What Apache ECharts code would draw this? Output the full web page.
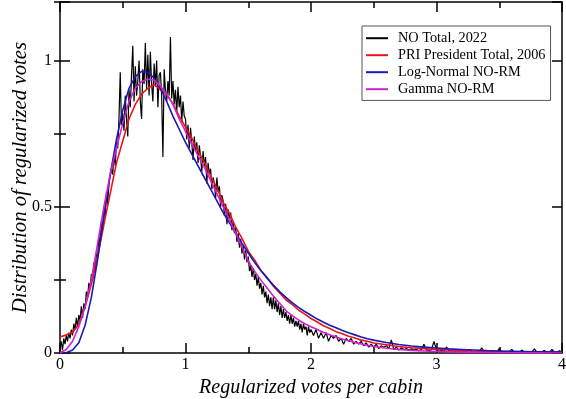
<!DOCTYPE html>
<html>
<head>
<meta charset="utf-8">
<script src="https://cdn.jsdelivr.net/npm/echarts@6/dist/echarts.min.js"></script>
<style>
  html, body { margin: 0; padding: 0; background: #fff; }
  #main { width: 566px; height: 399px; }
</style>
</head>
<body>
<div id="main"></div>
<script>
// series names, same order as the legend
const seriesNames = ['NO Total, 2022', 'PRI President Total, 2006', 'Log-Normal NO-RM', 'Gamma NO-RM']

// NO Total 2022: first part on a 0.01 grid from 0 to 2, then a 0.02 grid up to 4
const noStartA = 0
const noStepA = 0.01
const noValuesA = [
  0.02, 0.04, 0.01, 0.05, 0.03, 0.06, 0.04, 0.07, 0.05, 0.08,
  0.06, 0.10, 0.08, 0.12, 0.09, 0.13, 0.11, 0.16, 0.12, 0.17,
  0.15, 0.21, 0.19, 0.24, 0.22, 0.27, 0.25, 0.31, 0.28, 0.34,
  0.33, 0.40, 0.37, 0.45, 0.42, 0.50, 0.46, 0.55, 0.51, 0.58,
  0.58, 0.63, 0.61, 0.68, 0.64, 0.72, 0.70, 0.80, 0.96, 0.78,
  0.82, 0.76, 0.88, 0.80, 0.74, 0.90, 0.84, 0.95, 1.05, 0.86,
  0.98, 0.88, 0.93, 1.00, 0.86, 0.80, 0.97, 0.92, 1.06, 0.90,
  1.02, 0.88, 1.03, 0.92, 0.86, 0.99, 0.91, 1.00, 0.84, 0.95,
  0.96, 0.88, 0.67, 0.97, 0.90, 0.86, 0.93, 0.88, 1.08, 0.87,
  0.93, 0.85, 0.90, 0.82, 0.91, 0.84, 0.88, 0.79, 0.86, 0.81,
  0.80, 0.73, 0.78, 0.70, 0.77, 0.72, 0.66, 0.74, 0.69, 0.72,
  0.65, 0.71, 0.67, 0.62, 0.69, 0.64, 0.67, 0.58, 0.65, 0.61,
  0.63, 0.56, 0.60, 0.58, 0.53, 0.60, 0.55, 0.57, 0.50, 0.54,
  0.52, 0.47, 0.51, 0.44, 0.49, 0.46, 0.48, 0.42, 0.45, 0.41,
  0.43, 0.38, 0.41, 0.36, 0.39, 0.34, 0.37, 0.32, 0.35, 0.31,
  0.33, 0.28, 0.30, 0.26, 0.29, 0.25, 0.27, 0.23, 0.26, 0.22,
  0.24, 0.20, 0.23, 0.19, 0.21, 0.17, 0.20, 0.16, 0.19, 0.15,
  0.19, 0.15, 0.18, 0.14, 0.17, 0.13, 0.16, 0.12, 0.15, 0.12,
  0.14, 0.11, 0.13, 0.10, 0.13, 0.10, 0.12, 0.09, 0.11, 0.09,
  0.11, 0.08, 0.10, 0.07, 0.10, 0.08, 0.09, 0.06, 0.09, 0.07,
  0.08
]
const noStartB = 2.02
const noStepB = 0.02
const noValuesB = [
  0.06, 0.08, 0.05, 0.07, 0.05, 0.07, 0.04, 0.06, 0.05, 0.06,
  0.04, 0.05, 0.03, 0.05, 0.04, 0.05, 0.03, 0.04, 0.03, 0.04,
  0.025, 0.035, 0.02, 0.03, 0.02, 0.03, 0.015, 0.025, 0.02, 0.025,
  0.015, 0.045, 0.012, 0.02, 0.01, 0.018, 0.012, 0.015, 0.01, 0.014,
  0.01, 0.013, 0.008, 0.012, 0.03, 0.01, 0.008, 0.011, 0.04, 0.01,
  0.006, 0.009, 0.005, 0.02, 0.006, 0.008, 0.004, 0.007, 0.005, 0.008,
  0.004, 0.006, 0.012, 0.005, 0.003, 0.006, 0.004, 0.018, 0.005, 0.004,
  0.003, 0.005, 0.002, 0.004, 0.015, 0.003, 0.005, 0.002, 0.004, 0.012,
  0.003, 0.004, 0.002, 0.01, 0.003, 0.005, 0.002, 0.004, 0.014, 0.003,
  0.002, 0.004, 0.009, 0.002, 0.003, 0.012, 0.002, 0.003, 0.008, 0.002
]

// x values shared by the other three curves
const curveX = [
  0, 0.05, 0.1, 0.15, 0.2, 0.25, 0.3, 0.35, 0.4, 0.45,
  0.5, 0.55, 0.6, 0.65, 0.7, 0.75, 0.8, 0.85, 0.9, 0.95,
  1, 1.05, 1.1, 1.15, 1.2, 1.25, 1.3, 1.35, 1.4, 1.45,
  1.5, 1.55, 1.6, 1.65, 1.7, 1.75, 1.8, 1.85, 1.9, 1.95,
  2, 2.05, 2.1, 2.15, 2.2, 2.25, 2.3, 2.35, 2.4, 2.45,
  2.5, 2.6, 2.7, 2.8, 2.9, 3, 3.1, 3.2, 3.3, 3.4,
  3.5, 3.6, 3.7, 3.8, 3.9, 4
]
const priValues = [
  0.055, 0.062, 0.07, 0.098, 0.158, 0.235, 0.33, 0.44, 0.545, 0.65,
  0.725, 0.80, 0.85, 0.885, 0.905, 0.918, 0.90, 0.885, 0.852, 0.81,
  0.772, 0.735, 0.69, 0.652, 0.605, 0.565, 0.515, 0.478, 0.43, 0.392,
  0.348, 0.318, 0.283, 0.258, 0.228, 0.205, 0.182, 0.166, 0.147, 0.133,
  0.118, 0.106, 0.093, 0.084, 0.073, 0.066, 0.057, 0.051, 0.044, 0.04,
  0.034, 0.028, 0.022, 0.018, 0.015, 0.012, 0.01, 0.008, 0.006, 0.005,
  0.004, 0.004, 0.003, 0.003, 0.002, 0.002
]
const logNormalValues = [
  0, 0.001, 0.01, 0.035, 0.095, 0.19, 0.32, 0.47, 0.61, 0.73,
  0.83, 0.905, 0.945, 0.963, 0.96, 0.94, 0.905, 0.86, 0.81, 0.765,
  0.72, 0.68, 0.64, 0.60, 0.56, 0.52, 0.48, 0.445, 0.41, 0.375,
  0.342, 0.31, 0.282, 0.256, 0.232, 0.21, 0.19, 0.172, 0.156, 0.142,
  0.129, 0.116, 0.105, 0.095, 0.086, 0.077, 0.069, 0.062, 0.055, 0.049,
  0.044, 0.036, 0.029, 0.024, 0.02, 0.017, 0.014, 0.012, 0.01, 0.008,
  0.007, 0.006, 0.005, 0.004, 0.004, 0.003
]
const gammaValues = [
  0, 0.012, 0.04, 0.09, 0.16, 0.25, 0.375, 0.5, 0.61, 0.70,
  0.785, 0.86, 0.905, 0.928, 0.937, 0.933, 0.912, 0.885, 0.85, 0.80,
  0.758, 0.715, 0.675, 0.635, 0.59, 0.545, 0.50, 0.455, 0.41, 0.362,
  0.315, 0.28, 0.25, 0.222, 0.195, 0.17, 0.145, 0.128, 0.113, 0.10,
  0.09, 0.08, 0.07, 0.062, 0.055, 0.048, 0.042, 0.036, 0.031, 0.026,
  0.022, 0.016, 0.012, 0.009, 0.007, 0.005, 0.004, 0.003, 0.002, 0.0015,
  0.001, 0.001, 0.0005, 0.0005, 0, 0
]

// axis ticks
const xMin = 0
const xMax = 4
const xInterval = 1
const yMin = 0
const yMax = 1.2
const yInterval = 0.5
const yMinorInterval = 0.25
const yLabelValues = [0, 0.5, 1]

const serif = 'Liberation Serif'

const noPoints = []
noValuesA.forEach((v, i) => noPoints.push([+(noStartA + i * noStepA).toFixed(2), v]))
noValuesB.forEach((v, i) => noPoints.push([+(noStartB + i * noStepB).toFixed(2), v]))
const pairUp = (vals) => curveX.map((x, i) => [x, vals[i]])

const frame = { show: true, onZero: false, lineStyle: { color: '#000', width: 1.5 } }
const tickStyle = { color: '#000', width: 1.5 }

const makeX = (position, withLabels) => ({
  type: 'value',
  position: position,
  min: xMin,
  max: xMax,
  interval: xInterval,
  axisLine: frame,
  axisTick: { inside: true, length: 10, lineStyle: tickStyle },
  minorTick: { show: true, splitNumber: 2, length: 6, lineStyle: tickStyle },
  axisLabel: { show: withLabels, color: '#000', fontFamily: serif, fontSize: 16, margin: 4 },
  splitLine: { show: false },
  minorSplitLine: { show: false }
})

const makeY = (position, interval, tickLen, main) => ({
  type: 'value',
  position: position,
  min: yMin,
  max: yMax,
  interval: interval,
  axisLine: main ? frame : { show: false },
  axisTick: { inside: true, length: tickLen, lineStyle: tickStyle },
  axisLabel: {
    show: main && position === 'left',
    color: '#000',
    fontFamily: serif,
    fontSize: 16,
    margin: 8,
    formatter: (v) => (yLabelValues.indexOf(v) >= 0 ? String(v) : '')
  },
  splitLine: { show: false }
})

const xBottom = makeX('bottom', true)
xBottom.name = 'Regularized votes per cabin'
xBottom.nameLocation = 'middle'
xBottom.nameGap = 20
xBottom.nameTextStyle = { fontFamily: serif, fontStyle: 'italic', fontSize: 20, color: '#000' }

const yLeft = makeY('left', yInterval, 10, true)
yLeft.name = 'Distribution of regularized votes'
yLeft.nameLocation = 'middle'
yLeft.nameGap = 29
yLeft.nameMoveOverlap = false
yLeft.nameTextStyle = { fontFamily: serif, fontStyle: 'italic', fontSize: 20.8, color: '#000' }

const lineSeries = (name, data, color, width) => ({
  name: name,
  type: 'line',
  data: data,
  xAxisIndex: 0,
  yAxisIndex: 0,
  showSymbol: false,
  symbol: 'none',
  color: color,
  itemStyle: { color: color },
  lineStyle: { color: color, width: width },
  animation: false
})

var chart = echarts.init(document.getElementById('main'))
var option = {
  backgroundColor: '#fff',
  animation: false,
  grid: { left: 60, right: 4, top: 2, bottom: 46, containLabel: false, outerBoundsMode: 'none' },
  legend: {
    data: seriesNames,
    orient: 'vertical',
    left: 362,
    top: 26,
    icon: 'rect',
    itemWidth: 22,
    itemHeight: 2,
    itemGap: 2.6,
    padding: [5, 5, 4, 4],
    borderColor: '#555',
    borderWidth: 1,
    backgroundColor: '#fff',
    textStyle: { fontFamily: serif, fontSize: 14.3, color: '#000', lineHeight: 14.4, padding: [0, 0, 0, 5] }
  },
  xAxis: [xBottom, makeX('top', false)],
  yAxis: [
    yLeft,
    makeY('left', yMinorInterval, 6, false),
    makeY('right', yInterval, 10, true),
    makeY('right', yMinorInterval, 6, false)
  ],
  series: [
    lineSeries(seriesNames[0], noPoints, '#000000', 1.2),
    lineSeries(seriesNames[1], pairUp(priValues), '#e8141a', 1.6),
    lineSeries(seriesNames[2], pairUp(logNormalValues), '#1a1ab0', 1.6),
    lineSeries(seriesNames[3], pairUp(gammaValues), '#d21fd2', 1.6)
  ]
}
option && chart.setOption(option)
</script>
</body>
</html>
